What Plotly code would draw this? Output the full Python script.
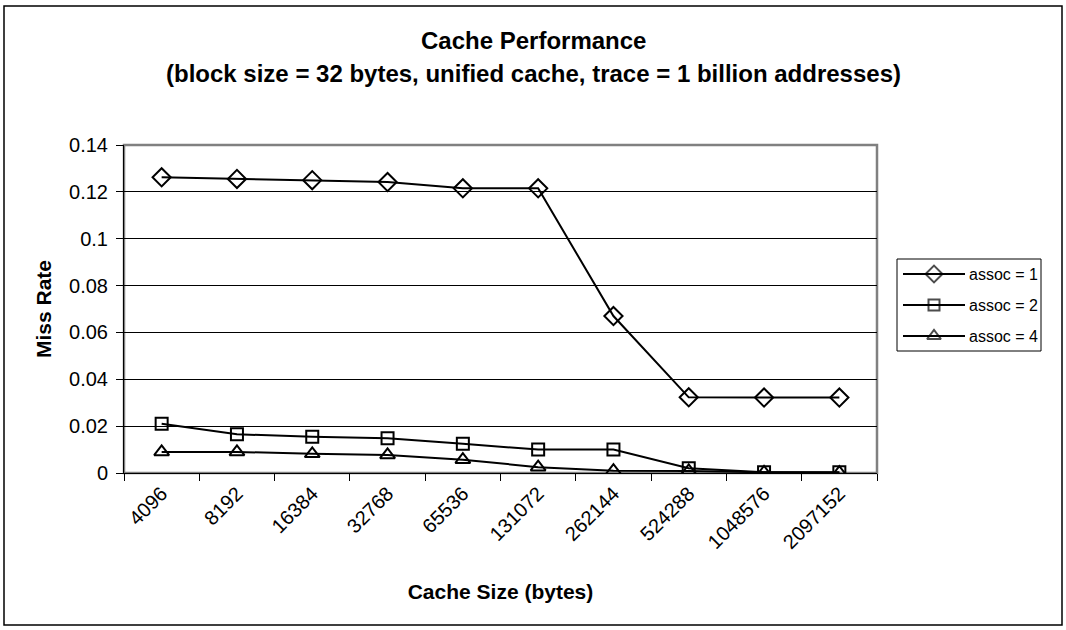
import plotly.graph_objects as go

cache_sizes = ["4096", "8192", "16384", "32768", "65536", "131072",
               "262144", "524288", "1048576", "2097152"]
assoc1 = [0.1262, 0.1255, 0.1250, 0.1242, 0.1215, 0.1215, 0.0670, 0.0323, 0.0322, 0.0322]
assoc2 = [0.0210, 0.0165, 0.0155, 0.0148, 0.0125, 0.0100, 0.0100, 0.0020, 0.0003, 0.0003]
assoc4 = [0.0090, 0.0090, 0.0082, 0.0077, 0.0057, 0.0025, 0.0010, 0.0009, 0.0003, 0.0002]
series_names = ["assoc = 1", "assoc = 2", "assoc = 4"]
y_ticks = [0, 0.02, 0.04, 0.06, 0.08, 0.1, 0.12, 0.14]
y_tick_labels = ["0", "0.02", "0.04", "0.06", "0.08", "0.1", "0.12", "0.14"]
title_lines = ["Cache Performance",
               "(block size = 32 bytes, unified cache, trace = 1 billion addresses)"]

FONT = "Liberation Sans, Arial, sans-serif"
W, H = 1066, 630

def px_x(p):
    return p / W

def px_y(p):
    return (H - p) / H

symbols = ["diamond-open", "square-open", "triangle-up-open"]
sizes = [14, 12, 13]
values = [assoc1, assoc2, assoc4]

fig = go.Figure()
for name, vals, sym, sz in zip(series_names, values, symbols, sizes):
    fig.add_trace(go.Scatter(
        x=cache_sizes, y=vals, name=name, mode="lines+markers",
        line=dict(color="black", width=2), showlegend=False,
        marker=dict(symbol=sym, size=sz, color="black", line=dict(width=2, color="black")),
    ))

# legend samples drawn on an auxiliary axis placed in the legend box
leg_rows = [0.837, 0.5, 0.163]
for name, sym, sz, yr in zip(series_names, symbols, sizes, leg_rows):
    fig.add_trace(go.Scatter(
        x=[0, 0.5, 1], y=[yr, yr, yr], mode="lines+markers", xaxis="x2", yaxis="y2",
        showlegend=False, hoverinfo="skip",
        line=dict(color="black", width=2),
        marker=dict(symbol=sym, size=[0, sz - 1, 0], color="black", line=dict(width=2, color="black")),
    ))

leg_top, leg_bot = 259, 351
fig.update_layout(
    width=W, height=H,
    margin=dict(l=0, r=0, t=0, b=0, autoexpand=False),
    paper_bgcolor="white", plot_bgcolor="white",
    font=dict(family=FONT, size=20, color="black"),
    showlegend=False,
    xaxis=dict(domain=[px_x(124), px_x(877)], anchor="y", automargin=False,
               type="category", range=[-0.5, 9.5], tickangle=-45,
               showline=True, linecolor="black", linewidth=1,
               ticks="outside", tickson="boundaries", ticklen=7, tickcolor="black",
               showgrid=False, zeroline=False,
               tickfont=dict(size=20),
               title=dict(text="<b>Cache Size (bytes)</b>", font=dict(size=21), standoff=32)),
    yaxis=dict(domain=[px_y(473), px_y(145)], anchor="x", automargin=False,
               range=[0, 0.14], tickvals=y_ticks, ticktext=y_tick_labels,
               showline=True, linecolor="black", linewidth=1,
               ticks="outside", ticklen=7, tickcolor="black",
               showgrid=True, gridcolor="black", gridwidth=1, zeroline=False,
               tickfont=dict(size=20), ticklabelstandoff=4,
               title=dict(text="<b>Miss Rate</b>", font=dict(size=21), standoff=11)),
    xaxis2=dict(domain=[px_x(903), px_x(965)], anchor="y2", range=[0, 1], visible=False,
                fixedrange=True, automargin=False),
    yaxis2=dict(domain=[px_y(leg_bot), px_y(leg_top)], anchor="x2", range=[0, 1], visible=False,
                fixedrange=True, automargin=False),
)

# chart title (two lines)
for line, yc in zip(title_lines, [40, 73]):
    fig.add_annotation(text="<b>" + line + "</b>", x=0.5, xref="paper", xanchor="center",
                       y=px_y(yc), yref="paper", yanchor="middle", showarrow=False,
                       font=dict(size=24, family=FONT, color="black"))

# plot area border (grey)
fig.add_shape(type="rect", xref="x domain", yref="y domain", x0=0, x1=1, y0=0, y1=1,
              line=dict(color="#808080", width=2.5), layer="below")
# legend box
fig.add_shape(type="rect", xref="paper", yref="paper",
              x0=px_x(897), x1=px_x(1041), y0=px_y(leg_bot), y1=px_y(leg_top),
              line=dict(color="black", width=1), layer="below")
for name, yr in zip(series_names, leg_rows):
    fig.add_annotation(text=name, x=px_x(967), xref="paper", xanchor="left",
                       y=yr, yref="y2", yanchor="middle", showarrow=False,
                       font=dict(size=16, family=FONT, color="black"))
# outer chart border
fig.add_shape(type="rect", xref="paper", yref="paper",
              x0=px_x(4), x1=px_x(1062), y0=px_y(625), y1=px_y(6),
              line=dict(color="black", width=1.5))

fig.write_html("out.html")
